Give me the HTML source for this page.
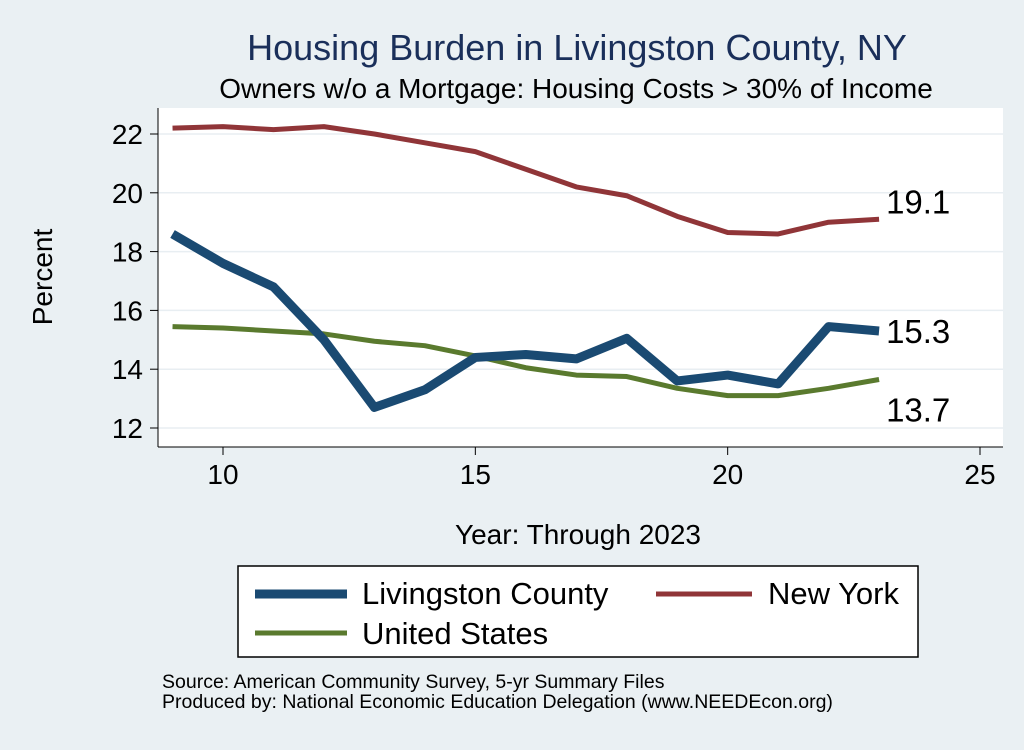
<!DOCTYPE html>
<html><head><meta charset="utf-8"><style>
body{margin:0;background:#eaf0f3;font-family:"Liberation Sans",sans-serif}
svg text{font-family:"Liberation Sans",sans-serif}
</style></head><body>
<svg width="1024" height="745" viewBox="0 0 1024 745">
<rect x="0" y="0" width="1024" height="745" fill="#eaf0f3"/>
<text x="577" y="60" font-size="36" fill="#1a2f5a" text-anchor="middle">Housing Burden in Livingston County, NY</text>
<text x="576" y="98" font-size="28" fill="#000" text-anchor="middle">Owners w/o a Mortgage: Housing Costs &gt; 30% of Income</text>
<rect x="158" y="108" width="845" height="339" fill="#fff"/>
<g id="grid"></g>
<g id="axes"></g>
<g id="series"></g>
<text x="52" y="277" font-size="28" text-anchor="middle" transform="rotate(-90 52 277)">Percent</text>
<text x="578" y="544" font-size="28" text-anchor="middle">Year: Through 2023</text>
<g>
<rect x="238" y="566" width="680" height="91" fill="#fff" stroke="#000" stroke-width="1.5"/>
<line x1="255" y1="594" x2="347" y2="594" stroke="#1a4a72" stroke-width="9"/>
<text x="362" y="604" font-size="31">Livingston County</text>
<line x1="656" y1="594" x2="752" y2="594" stroke="#903538" stroke-width="5"/>
<text x="768" y="604" font-size="31">New York</text>
<line x1="255" y1="633" x2="347" y2="633" stroke="#5a7a2e" stroke-width="5"/>
<text x="362" y="644" font-size="31">United States</text>
</g>
<text x="162" y="688" font-size="19.5">Source: American Community Survey, 5-yr Summary Files</text>
<text x="162" y="708" font-size="19.5">Produced by: National Economic Education Delegation (www.NEEDEcon.org)</text>
</svg>
<script>
const years=[9,10,11,12,13,14,15,16,17,18,19,20,21,22,23];
const livingston=[18.6,17.6,16.8,15.0,12.7,13.3,14.4,14.5,14.35,15.05,13.6,13.8,13.5,15.45,15.3];
const newYork=[22.2,22.25,22.15,22.25,22.0,21.7,21.4,20.8,20.2,19.9,19.2,18.65,18.6,19.0,19.1];
const unitedStates=[15.45,15.4,15.3,15.2,14.95,14.8,14.45,14.05,13.8,13.75,13.35,13.1,13.1,13.35,13.65];
const yTicks=[12,14,16,18,20,22];
const xTicks=[10,15,20,25];
const endLabels=["15.3","19.1","13.7"];
const NS="http://www.w3.org/2000/svg";
const xs=v=>223+(v-10)*(980-223)/15;
const ys=v=>428-(v-12)*(428-134)/10;
function mk(t,a,p){const e=document.createElementNS(NS,t);for(const k in a)e.setAttribute(k,a[k]);p.appendChild(e);return e;}
const grid=document.getElementById('grid'),axes=document.getElementById('axes'),ser=document.getElementById('series');
const yAxis=mk('line',{x1:158,y1:108,x2:158,y2:447,stroke:'#000','stroke-width':1},axes);


const xAxis=mk('line',{x1:158,y1:447,x2:1003,y2:447,stroke:'#000','stroke-width':1},axes);


yTicks.forEach(v=>{
 const g=mk('line',{x1:158,x2:1003,y1:ys(v),y2:ys(v),stroke:'#e8eef2','stroke-width':1.5},grid);
 
 
 const t=mk('line',{x1:150,x2:158,y1:ys(v),y2:ys(v),stroke:'#000'},axes);
 
 
 const l=mk('text',{x:143,y:ys(v)+10,'font-size':28,'text-anchor':'end'},axes);l.textContent=v;
 
 
});
xTicks.forEach(v=>{
 const t=mk('line',{x1:xs(v),x2:xs(v),y1:447,y2:455,stroke:'#000'},axes);
 
 
 const l=mk('text',{x:xs(v),y:484,'font-size':28,'text-anchor':'middle'},axes);l.textContent=v;
 
 
});
function line(vals,color,w,name){
 const p=mk('polyline',{points:years.map((y,i)=>xs(y)+','+ys(vals[i])).join(' '),fill:'none',stroke:color,'stroke-width':w,'stroke-linejoin':'round'},ser);
 
 
}
line(newYork,'#903538',5,'line-new-york');
line(unitedStates,'#5a7a2e',5,'line-united-states');
line(livingston,'#1a4a72',9,'line-livingston');
const last=years.length-1;
[[livingston,'end-label-livingston',12],[newYork,'end-label-ny',-6],[unitedStates,'end-label-us',42]].forEach((d,i)=>{
 const t=mk('text',{x:xs(years[last])+7,y:ys(d[0][last])+d[2],'font-size':33},ser);
 t.textContent=endLabels[i];
 
 
});
</script>
</body></html>
